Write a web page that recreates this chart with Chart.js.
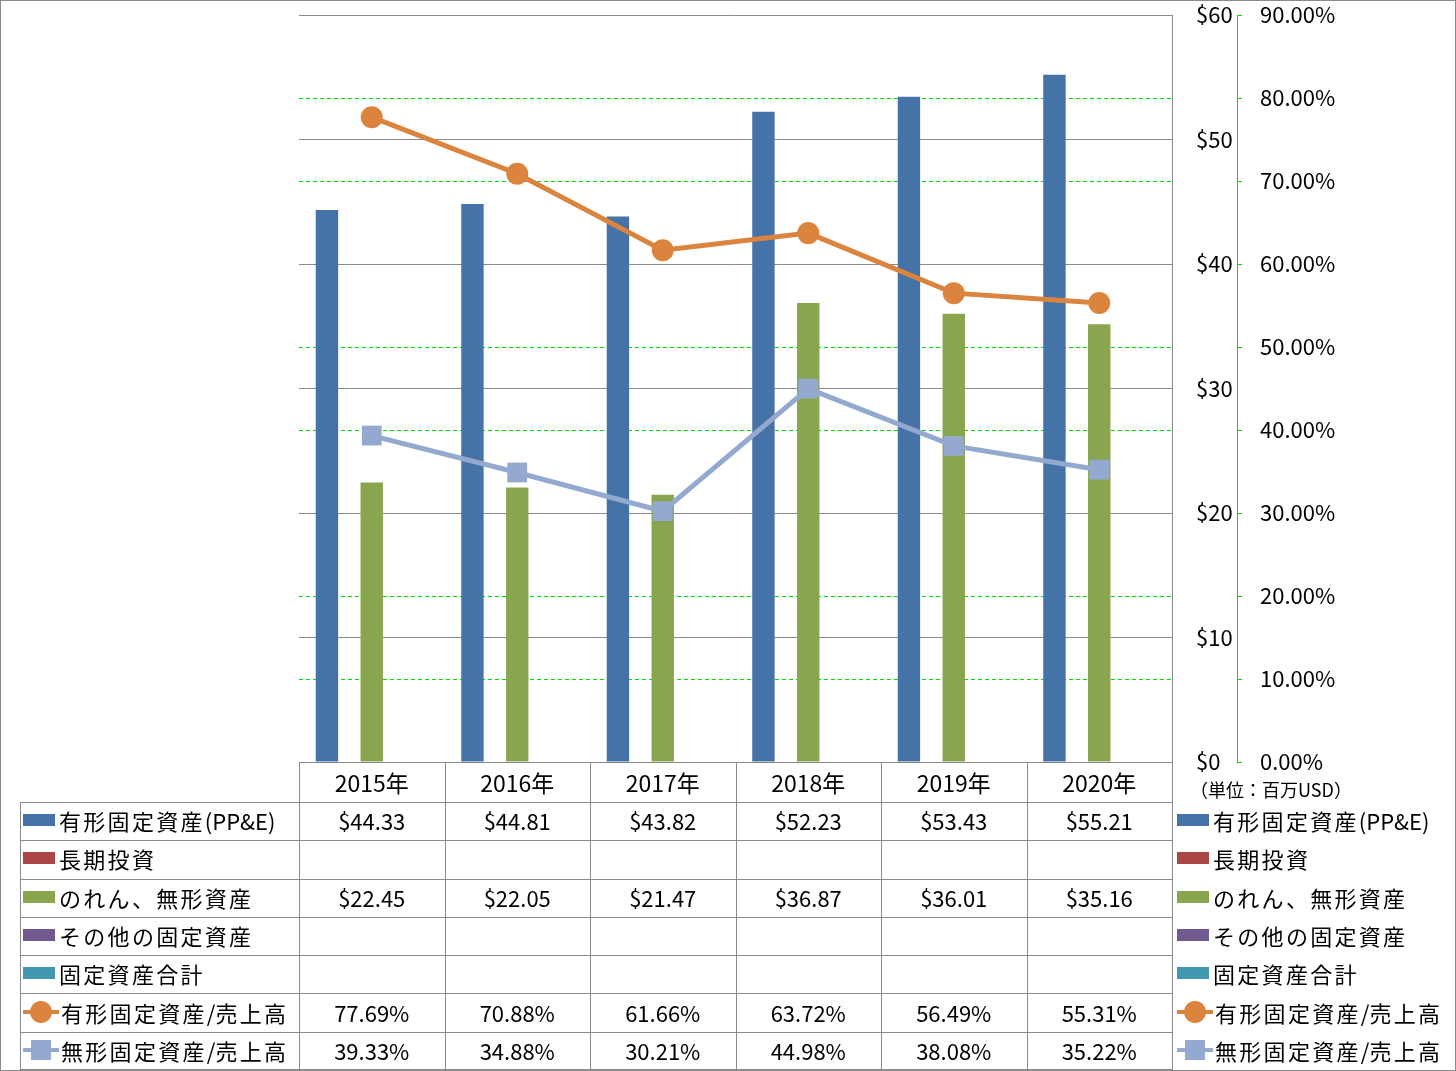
<!DOCTYPE html>
<html>
<head>
<meta charset="utf-8">
<script src="https://cdn.jsdelivr.net/npm/chart.js@4.4.1/dist/chart.umd.min.js"></script>
<style>
body { margin: 0; background: #fff; font-family: "Noto Sans CJK JP", "Noto Sans", sans-serif; }
#wrap { position: relative; width: 1456px; height: 1071px; overflow: hidden; }
#frame { position: absolute; left: 0; top: 0; width: 1454px; height: 1069px; border: 1px solid #8a8a8a; pointer-events: none; }
canvas { position: absolute; left: 0; top: 0; }
.ln { position: absolute; background: #8a8a8a; }
.cell { position: absolute; display: flex; align-items: center; font-size: 22px; color: #000; white-space: nowrap; }
.leg { letter-spacing: 2.3px; }
.leg .lat { letter-spacing: 0; }
.ano { font-size: 23px; }
.unit { position: absolute; left: 1190px; top: 776px; font-size: 18px; color: #000; }
</style>
</head>
<body>
<div id="wrap">
  <canvas id="grafico" width="1456" height="1071"></canvas>
  <div id="tabela"></div>
  <div class="unit">（単位：百万USD）</div>
  <div id="frame"></div>
</div>
<script>
// Dados do gráfico
const anos = ["2015年", "2016年", "2017年", "2018年", "2019年", "2020年"];
const ppe = [44.33, 44.81, 43.82, 52.23, 53.43, 55.21];
const longInvest = [null, null, null, null, null, null];
const goodwill = [22.45, 22.05, 21.47, 36.87, 36.01, 35.16];
const otherAssets = [null, null, null, null, null, null];
const totalAssets = [null, null, null, null, null, null];
const ppeRatio = [77.69, 70.88, 61.66, 63.72, 56.49, 55.31];
const intangRatio = [39.33, 34.88, 30.21, 44.98, 38.08, 35.22];
const usdTicks = [0, 10, 20, 30, 40, 50, 60];
const pctTicks = [0, 10, 20, 30, 40, 50, 60, 70, 80, 90];

const series = [
    { label: "有形固定資産(PP&E)", data: ppe, color: "#4572A7", tipo: "bar", fmt: "usd" },
    { label: "長期投資", data: longInvest, color: "#AA4643", tipo: "bar", fmt: "usd" },
    { label: "のれん、無形資産", data: goodwill, color: "#89A54E", tipo: "bar", fmt: "usd" },
    { label: "その他の固定資産", data: otherAssets, color: "#71588F", tipo: "bar", fmt: "usd" },
    { label: "固定資産合計", data: totalAssets, color: "#4198AF", tipo: "bar", fmt: "usd" },
    { label: "有形固定資産/売上高", data: ppeRatio, color: "#DB843D", tipo: "circle", fmt: "pct" },
    { label: "無形固定資産/売上高", data: intangRatio, color: "#93A9CF", tipo: "rect", fmt: "pct" }
];

Chart.defaults.font.family = "'Noto Sans CJK JP', 'Noto Sans', sans-serif";
Chart.defaults.font.size = 22;
Chart.defaults.color = "#000";

const datasets = series.map(function(s) {
    if (s.tipo === "bar") {
        return {
            type: "bar", label: s.label, data: s.data, backgroundColor: s.color,
            yAxisID: "y", order: 1, categoryPercentage: 0.77, barPercentage: 1.0
        };
    }
    return {
        type: "line", label: s.label, data: s.data, borderColor: s.color, backgroundColor: s.color,
        borderWidth: 5, pointStyle: s.tipo, pointRadius: s.tipo === "circle" ? 11 : 14,
        pointBorderWidth: 0, yAxisID: "y1", order: 0, tension: 0
    };
});

// zera o padding automático dos eixos para fixar a área do gráfico
function semPadding(axis, largura) {
    axis.width = largura;
    axis.paddingTop = 0;
    axis.paddingBottom = 0;
}

const ctx = document.getElementById("grafico").getContext("2d");
const chart = new Chart(ctx, {
    type: "bar",
    data: { labels: anos, datasets: datasets },
    options: {
        responsive: false,
        animation: false,
        layout: { padding: { left: 299, top: 15, bottom: 309, right: 0 } },
        plugins: { legend: { display: false }, tooltip: { enabled: false } },
        scales: {
            x: { display: false, offset: true },
            y: {
                position: "right", min: 0, max: 60, weight: 0,
                afterBuildTicks: function(axis) { axis.ticks = usdTicks.map(v => ({ value: v })); },
                afterFit: function(axis) { semPadding(axis, 65); },
                grid: { color: "#8a8a8a", lineWidth: 1, drawTicks: false },
                border: { display: true, color: "#8a8a8a" },
                ticks: { crossAlign: "near", padding: 24, callback: v => "$" + v }
            },
            y1: {
                position: "right", min: 0, max: 90, weight: 1,
                afterBuildTicks: function(axis) { axis.ticks = pctTicks.map(v => ({ value: v })); },
                afterFit: function(axis) { semPadding(axis, 219); },
                grid: {
                    color: c => (c.tick && c.tick.value % 30 === 0) ? "rgba(0,0,0,0)" : "#00dd00",
                    tickColor: "#00dd00", tickBorderDash: [4, 3],
                    lineWidth: 1, tickLength: 7
                },
                border: { display: true, color: "#00dd00", dash: [4, 3] },
                ticks: { padding: 16, callback: v => v.toFixed(2) + "%" }
            }
        }
    }
});
chart.options.scales.y1.grid.borderDash = [4, 3];
chart.update();

// Tabela de dados abaixo do gráfico
function marcador(s) {
    if (s.tipo === "bar") {
        return '<span style="display:inline-block;width:32px;height:12px;background:' + s.color + ';margin-right:4px"></span>';
    }
    const forma = s.tipo === "circle"
        ? 'left:7px;top:0;width:22px;height:22px;border-radius:50%;'
        : 'left:8px;top:1px;width:20px;height:20px;';
    return '<span style="position:relative;display:inline-block;width:36px;height:22px;margin-right:2px">' +
        '<span style="position:absolute;left:0;top:9px;width:36px;height:4px;background:' + s.color + '"></span>' +
        '<span style="position:absolute;' + forma + 'background:' + s.color + '"></span></span>';
}

// texto latino sem espaçamento extra
function rotulo(txt) {
    return txt.replace(/([\x20-\x7e]+)/g, '<span class="lat">$1</span>');
}

function montarTabela() {
    const area = chart.chartArea;
    const tab = document.getElementById("tabela");
    const colW = (area.right - area.left) / anos.length;
    const topo = area.bottom;
    const hHead = 40;
    const hRow = (1070 - topo - hHead) / series.length;
    let html = "";
    const linha = (x, y, w, h) => '<div class="ln" style="left:' + x + 'px;top:' + y + 'px;width:' + w + 'px;height:' + h + 'px"></div>';

    // cabeçalho
    anos.forEach(function(a, i) {
        html += '<div class="cell ano" style="left:' + (area.left + i * colW) + 'px;top:' + topo + 'px;width:' + colW + 'px;height:' + hHead + 'px;justify-content:center">' + a + '</div>';
    });
    // linhas
    series.forEach(function(s, r) {
        const y = topo + hHead + r * hRow;
        html += '<div class="cell leg" style="left:23px;top:' + (y - 1) + 'px;height:' + hRow + 'px">' + marcador(s) + rotulo(s.label) + '</div>';
        html += '<div class="cell leg" style="left:1177px;top:' + (y - 1) + 'px;height:' + hRow + 'px">' + marcador(s) + rotulo(s.label) + '</div>';
        s.data.forEach(function(v, i) {
            let txt = "";
            if (v !== null) txt = s.fmt === "usd" ? "$" + v.toFixed(2) : v.toFixed(2) + "%";
            html += '<div class="cell" style="left:' + (area.left + i * colW) + 'px;top:' + (y - 1) + 'px;width:' + colW + 'px;height:' + hRow + 'px;justify-content:center">' + txt + '</div>';
        });
        html += linha(20, Math.round(y), area.right - 20, 1);
    });
    html += linha(20, 1069, area.right - 20, 1);
    html += linha(20, Math.round(topo + hHead), 1, 1070 - topo - hHead);
    for (let i = 0; i <= anos.length; i++) {
        html += linha(Math.round(area.left + i * colW), topo, 1, 1070 - topo);
    }
    tab.innerHTML = html;
}
montarTabela();
</script>
</body>
</html>
